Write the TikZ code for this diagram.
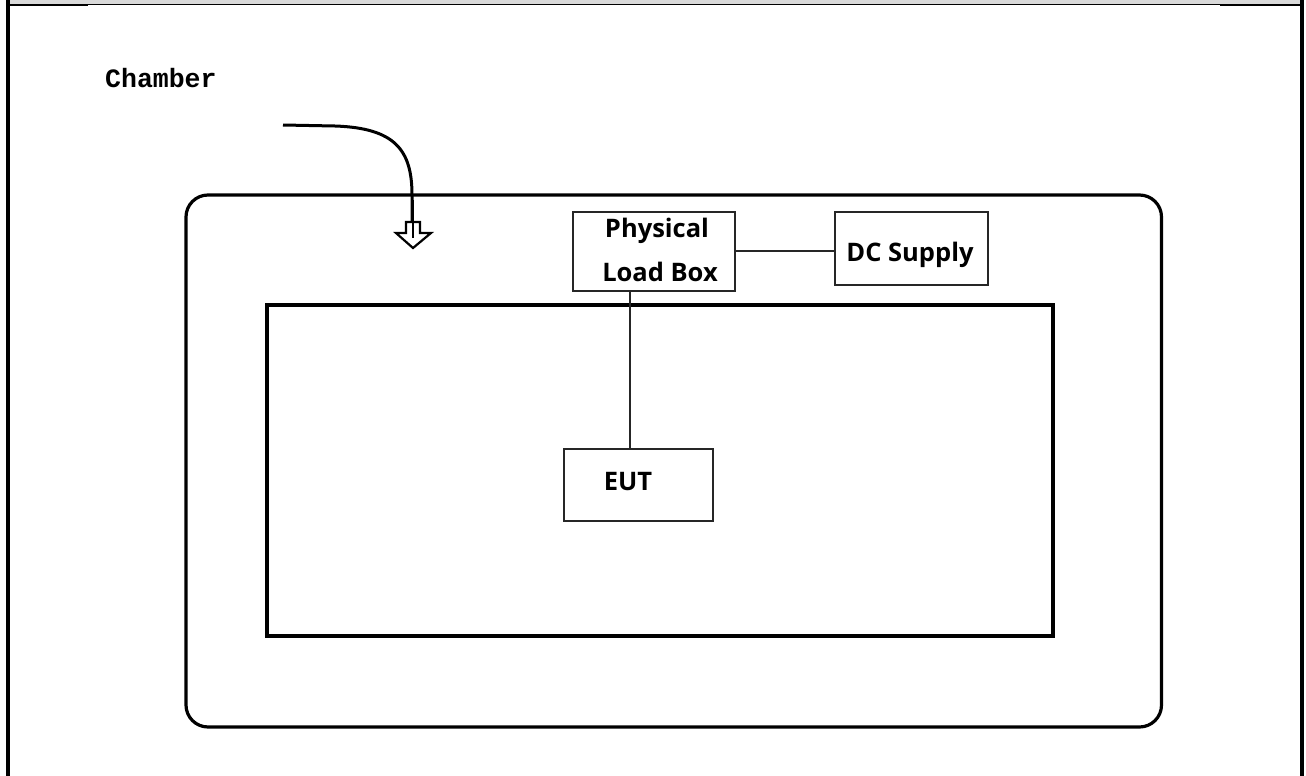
\documentclass[tikz,border=0pt]{standalone}
\usepackage{fontspec}
\setmainfont{Open Sans}
\newfontfamily\monob{Liberation Mono}
\begin{document}
\begin{tikzpicture}[x=1pt,y=-1pt,
  boxn/.style={draw=black!85,line width=1.6pt,inner sep=0pt,anchor=north west},
  lbl/.style={font=\fontsize{25.5}{25.5}\selectfont\bfseries,inner sep=0pt},
  wire/.style={draw=black!85,line width=1.4pt}]
\useasboundingbox (0,0) rectangle (1306,776);
% frame
\fill[black!15] (10,0) rectangle (1300,4);
\draw[line width=1.2pt] (10,4.6) -- (1300,4.6);
\fill (10,4) rectangle (88,6.5);
\fill (1220,4) rectangle (1300,6.5);
\fill (6,0) rectangle (10,776);
\fill (1300,0) rectangle (1304,776);
% title
\node[font=\monob\fontsize{26.5}{26.5}\selectfont\bfseries,inner sep=0pt,anchor=base west] (title) at (105,88) {Chamber};
% chamber walls
\draw[line width=3.2pt,rounded corners=22pt] (186,195) rectangle (1161.5,727);
\draw[line width=4pt] (267,305) rectangle (1053,636);
% arrow
\coordinate (a0) at (283,125);
\coordinate (a1) at (412,237);
\draw[line width=3pt] (a0) -- (335,126) .. controls (395,128) and (412,150) .. (412,195) -- (a1);
\draw[line width=2.2pt,fill=white,line join=miter] (406,222) -- (420,222) -- (420,233) -- (431,233) -- (413,248) -- (396,233) -- (406,233) -- cycle;
\draw[line width=2.5pt] (413,200) -- (413,238);
% boxes
\node[boxn,minimum width=162pt,minimum height=79pt] (plb) at (572,211) {};
\node[boxn,minimum width=153pt,minimum height=73pt] (dc) at (834,211) {};
\node[boxn,minimum width=149pt,minimum height=72pt] (eut) at (563,448) {};
\node[lbl,anchor=base] (t1) at (657,237) {Physical};
\node[lbl,anchor=base] (t2) at (660,281) {Load Box};
\node[lbl,anchor=base] (t3) at (910,261) {DC Supply};
\node[lbl,anchor=base] (t4) at (628,490) {EUT};
% connectors
\draw[wire] (plb.east |- 0,251) -- (dc.west |- 0,251);
\draw[wire] (plb.south -| 630,0) -- (eut.north -| 630,0);
\end{tikzpicture}
\end{document}
